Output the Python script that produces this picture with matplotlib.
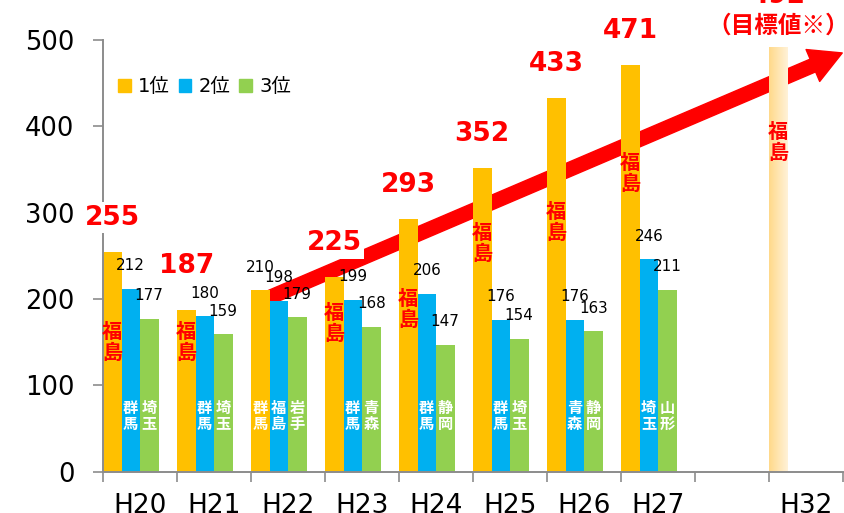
import numpy as np
import matplotlib
matplotlib.use("Agg")
import matplotlib.pyplot as plt
from matplotlib.patches import Patch, FancyArrowPatch
from matplotlib.colors import LinearSegmentedColormap

plt.rcParams['font.family'] = ['DejaVu Sans', 'Noto Sans CJK JP']

# data
years = ['H20', 'H21', 'H22', 'H23', 'H24', 'H25', 'H26', 'H27', '', 'H32']
first_values = [255, 187, 210, 225, 293, 352, 433, 471]
second_values = [212, 180, 198, 199, 206, 176, 176, 246]
third_values = [177, 159, 179, 168, 147, 154, 163, 211]
first_names = ['福島', '福島', '群馬', '福島', '福島', '福島', '福島', '福島']
second_names = ['群馬', '群馬', '福島', '群馬', '群馬', '群馬', '青森', '埼玉']
third_names = ['埼玉', '埼玉', '岩手', '青森', '静岡', '埼玉', '静岡', '山形']
target_value = 492
target_name = '福島'
target_year = 'H32'

# layout of the hand placed labels
fukushima_label_y = [150, 150, None, 172, 189, 265, 289, 346]
red_value_offset = [24.5, 32, None, 24.5, 24.5, 24.5, 24.5, 24.5]  # points above bar
target_label_y = 382
white_label_y = 65
arrow_start = (1.62, 197)
arrow_end = (9.49, 485)

ORANGE = '#FFC000'
BLUE = '#00B0F0'
GREEN = '#92D050'
RED = '#FF0000'
GRAY = '#8C8C8C'
CJK = ['Noto Sans CJK JP', 'DejaVu Sans']

fig = plt.figure(figsize=(8.44, 5.13), dpi=100)
ax = fig.add_axes([103 / 844, 41.3 / 513, 740 / 844, 431.7 / 513])

w = 0.25
x = np.arange(len(first_values))
bars1 = ax.bar(x - 0.375, first_values, w, color=ORANGE, zorder=2)
bars2 = ax.bar(x - 0.125, second_values, w, color=BLUE, zorder=2)
bars3 = ax.bar(x + 0.125, third_values, w, color=GREEN, zorder=2)

# target bar with a pale gradient
xt = years.index(target_year) - 0.375
tbar = ax.bar(xt, target_value, w, color='none', zorder=2)[0]
cmap = LinearSegmentedColormap.from_list('pale', ['#FFD98A', '#FFF2D8'])
img = ax.imshow(np.linspace(0, 1, 64).reshape(1, -1), cmap=cmap, aspect='auto',
                extent=[xt - w / 2, xt + w / 2, 0, target_value], zorder=2)
img.set_clip_path(tbar)

# big red arrow behind the bars
arrow = FancyArrowPatch(arrow_start, arrow_end, arrowstyle='simple,tail_width=10,head_width=25,head_length=23',
                        color=RED, shrinkA=0, shrinkB=0, zorder=1, clip_on=False)
ax.add_patch(arrow)


def small_label(xp, v):
    ax.annotate(str(v), (xp, v), xytext=(0, 16.5), textcoords='offset points',
                ha='center', va='center', fontsize=10.9, color='black', zorder=6)


def white_name(xp, name):
    ax.text(xp, white_label_y, '\n'.join(name), ha='center', va='center', color='white',
            fontsize=11, fontweight='bold', family=CJK, linespacing=1.0, zorder=5)


def red_name(xp, y, name):
    ax.text(xp, y, '\n'.join(name), ha='center', va='center', color=RED,
            fontsize=14.5, fontweight='bold', family=CJK, linespacing=1.0, zorder=5)


for i in range(len(first_values)):
    x1, x2, x3 = i - 0.375, i - 0.125, i + 0.125
    if first_names[i] == '福島':
        ax.annotate(str(first_values[i]), (x1, first_values[i]), xytext=(0, red_value_offset[i]),
                    textcoords='offset points', ha='center', va='center', fontsize=19,
                    fontweight='bold', color=RED, zorder=4,
                    bbox=dict(boxstyle='square,pad=0.1', fc='white', ec='none'))
        red_name(x1, fukushima_label_y[i], first_names[i])
    else:
        small_label(x1, first_values[i])
        white_name(x1, first_names[i])
    small_label(x2, second_values[i])
    white_name(x2, second_names[i])
    small_label(x3, third_values[i])
    white_name(x3, third_names[i])

red_name(xt, target_label_y, target_name)
ax.text(xt, 517, '（目標値※）', ha='center', va='center', color=RED, fontsize=17,
        fontweight='bold', family=CJK, zorder=5)
ax.text(xt, 551, str(target_value), ha='center', va='center', color=RED, fontsize=19,
        fontweight='bold', zorder=5)

# axes
ax.set_xlim(-0.5, len(years) - 0.5)
ax.set_ylim(0, 500)
ax.set_yticks(range(0, 501, 100))
ax.set_xticks(np.arange(len(years) + 1) - 0.5)
ax.set_xticklabels([])
ax.set_xticks(np.arange(len(years)), minor=True)
ax.set_xticklabels(years, minor=True)
ax.tick_params(axis='x', which='minor', length=0, pad=15.5, labelsize=19)
ax.tick_params(axis='x', which='major', length=7.2, width=1.2, color=GRAY)
ax.tick_params(axis='y', length=7.2, width=1.2, color=GRAY, pad=13.5, labelsize=18.5)
for s in ['top', 'right']:
    ax.spines[s].set_visible(False)
for s in ['left', 'bottom']:
    ax.spines[s].set_color(GRAY)
    ax.spines[s].set_linewidth(1.4)

handles = [Patch(color=ORANGE, label='1位'), Patch(color=BLUE, label='2位'), Patch(color=GREEN, label='3位')]
ax.legend(handles=handles, ncol=3, loc='center left', bbox_to_anchor=(118 / 844, 1 - 87 / 513),
          bbox_transform=fig.transFigure, frameon=False, fontsize=14, handlelength=0.66,
          handleheight=0.66, handletextpad=0.36, columnspacing=0.46, borderpad=0, borderaxespad=0)

fig.savefig('out.png', dpi=100)
